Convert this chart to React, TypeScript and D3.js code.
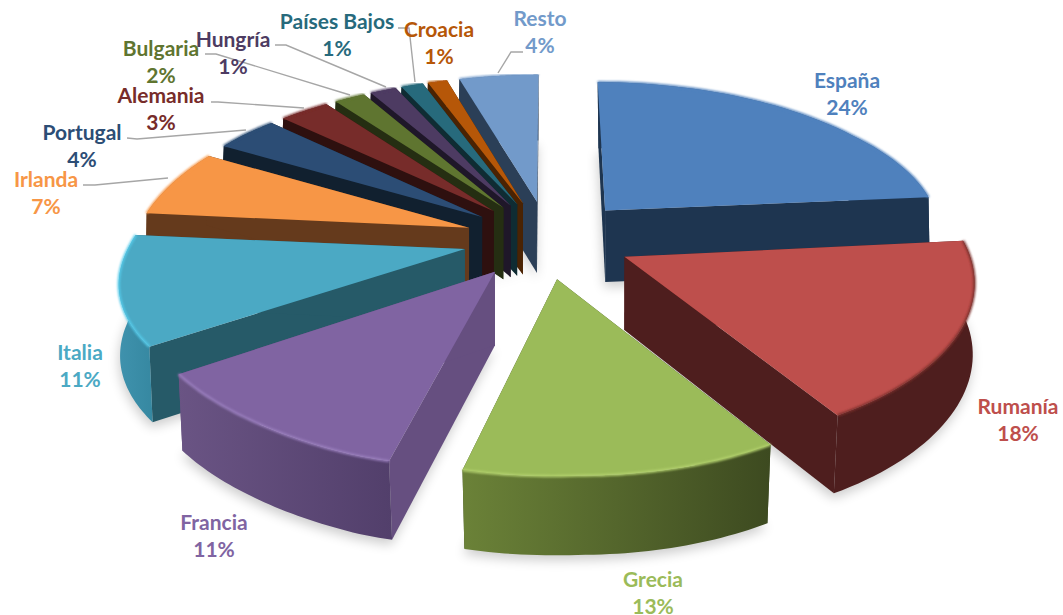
import React, { useEffect, useRef } from 'react';
import * as d3 from 'd3';

const names = ['España', 'Rumanía', 'Grecia', 'Francia', 'Italia', 'Irlanda', 'Portugal', 'Alemania', 'Bulgaria', 'Hungría', 'Países Bajos', 'Croacia', 'Resto'];
const shares = [24, 18, 13, 11, 11, 6.5, 3.55, 2.85, 1.76, 1.49, 1.25, 1.11, 4.49];

const topColors = ['#4F81BD', '#BE4F4C', '#9BBB59', '#8064A2', '#4BA9C4', '#F79646', '#2C4D75', '#772C2A', '#5F7530', '#4D3B62', '#276A7C', '#B65708', '#729ACA'];
const wallColors = ['#1E3550', '#4E1E1E', '#3E4C22', '#664F80', '#265A68', '#653A1C', '#11202F', '#2E100F', '#252E12', '#1F1729', '#0F2C33', '#4A2303', '#2B3F57'];
const rimLeftColors = ['#1E3550', '#4E1E1E', '#6B8238', '#6A5484', '#3F92AD', '#653A1C', '#11202F', '#2E100F', '#252E12', '#1F1729', '#0F2C33', '#4A2303', '#2B3F57'];
const rimRightColors = ['#1E3550', '#4E1E1E', '#3D4A20', '#523F6B', '#3688A1', '#653A1C', '#11202F', '#2E100F', '#252E12', '#1F1729', '#0F2C33', '#4A2303', '#2B3F57'];
const rimEdgeColors = ['#4F81BD', '#7A2E2C', '#B4D26E', '#9A7FBE', '#55CBEA', '#F79646', '#2C4D75', '#772C2A', '#5F7530', '#4D3B62', '#276A7C', '#B65708', '#729ACA'];

// label centre x, baseline of the name line
const labelX = [847, 1018, 653, 214, 80, 46, 82, 161, 161, 233, 337, 439, 540];
const labelY = [88, 414, 587, 530, 360, 187, 140, 103, 56, 47, 29, 37, 26];

const leaders: [number, number][][] = [
  [[83, 185], [95, 185], [168, 178]],
  [[127, 138], [137, 139], [246, 130]],
  [[211, 102], [218, 102], [304, 108]],
  [[205, 54], [216, 54], [350, 95]],
  [[275, 45], [286, 45], [386, 87]],
  [[398, 28], [409, 28], [415, 82]],
  [[498, 73], [511, 52], [523, 52]],
];

const width = 1063;
const height = 615;
const radius = 337;
const explode = 85;

// world: x right, v away from the viewer, in pixels at the pie centre
const project = (x: number, v: number, bottom = false): [number, number] => {
  const w = 1 + 0.00046 * v;
  const wy = 1 + 0.000428 * v;
  const near = v < 0 ? Math.pow(-v / 400, 3) : 0;
  const x0 = 548.5 + 31 * near * (0.85 - x / 650);
  const roll = 0.018 * (v > 0 ? Math.max(0, 1 - v / 250) : 1);
  const sx = x0 + x / w;
  const sy = 239 - (0.46 * v) / wy - roll * x + (x < 0 ? 6 * near * Math.min(1.2, -x / 156) : 0);
  if (!bottom) return [sx, sy];
  return [x0 + (sx - x0) * (1 + v * 0.00004), sy + 72.5 - v * 0.016];
};

const App: React.FC = () => {
  const ref = useRef<SVGSVGElement>(null);

  useEffect(() => {
    if (!ref.current) return;
    const svg = d3.select(ref.current);
    svg.selectAll('*').remove();

    const defs = svg.append('defs');
    defs.append('filter').attr('id', 'soft').attr('x', '-20%').attr('y', '-20%').attr('width', '140%').attr('height', '140%')
      .append('feGaussianBlur').attr('stdDeviation', 6);
    defs.append('filter').attr('id', 'edge').attr('x', '-10%').attr('y', '-10%').attr('width', '120%').attr('height', '120%')
      .append('feGaussianBlur').attr('stdDeviation', 1.1);

    const line = d3.line();
    const arcs = d3.pie<number>().sort(null).value(d => d)(shares);

    const slices = arcs.map((a, i) => {
      const mid = (a.startAngle + a.endAngle) / 2;
      const ax = explode * Math.sin(mid);
      const av = explode * Math.cos(mid);
      const steps = d3.range(0, 41).map(t => a.startAngle + ((a.endAngle - a.startAngle) * t) / 40);
      const rim = steps.map(t => [ax + radius * Math.sin(t), av + radius * Math.cos(t)] as [number, number]);
      return { i, mid, ax, av, rim };
    });

    // soft shadow under everything
    const shadow = svg.append('g').attr('filter', 'url(#soft)').attr('transform', 'translate(-1,5)').attr('opacity', 0.2);
    slices.forEach(s => {
      const pts = [[s.ax, s.av] as [number, number], ...s.rim].map(p => project(p[0], p[1], true));
      shadow.append('path').attr('d', line(pts) + 'Z').attr('fill', '#000');
    });

    // far slices first
    const order = [...slices].sort((a, b) => Math.cos(b.mid) - Math.cos(a.mid));
    order.forEach(s => {
      const g = svg.append('g');
      const apexT = project(s.ax, s.av);
      const apexB = project(s.ax, s.av, true);
      const rimT = s.rim.map(p => project(p[0], p[1]));
      const rimB = s.rim.map(p => project(p[0], p[1], true));
      const n = rimT.length - 1;

      const grad = defs.append('linearGradient').attr('id', `rim${s.i}`);
      grad.append('stop').attr('offset', '0%').attr('stop-color', rimLeftColors[s.i]);
      grad.append('stop').attr('offset', '100%').attr('stop-color', rimRightColors[s.i]);

      g.append('path').attr('d', line([apexT, rimT[0], rimB[0], apexB]) + 'Z').attr('fill', wallColors[s.i]);
      g.append('path').attr('d', line([apexT, rimT[n], rimB[n], apexB]) + 'Z').attr('fill', wallColors[s.i]);
      g.append('path').attr('d', line([...rimT, ...[...rimB].reverse()]) + 'Z').attr('fill', `url(#rim${s.i})`);
      g.append('path').attr('d', line([apexT, ...rimT]) + 'Z').attr('fill', topColors[s.i]);
      g.append('path').attr('d', line(rimT)).attr('fill', 'none')
        .attr('stroke', rimEdgeColors[s.i]).attr('stroke-width', 2.4).attr('filter', 'url(#edge)');
    });

    // leader lines
    svg.append('g').selectAll('path').data(leaders).join('path')
      .attr('d', d => line(d))
      .attr('fill', 'none').attr('stroke', '#A6A6A6').attr('stroke-width', 1.4);

    // labels
    const labels = svg.append('g')
      .attr('font-family', 'Lato, "Open Sans", sans-serif')
      .attr('font-weight', 700)
      .attr('font-size', 21)
      .attr('text-anchor', 'middle');
    names.forEach((name, i) => {
      labels.append('text').attr('x', labelX[i]).attr('y', labelY[i]).attr('fill', topColors[i]).text(name);
      labels.append('text').attr('x', labelX[i]).attr('y', labelY[i] + 27).attr('fill', topColors[i]).text(`${Math.round(shares[i])}%`);
    });
  }, []);

  return (
    <svg ref={ref} width={width} height={height} style={{ position: 'absolute', left: 0, top: 0, background: '#fff' }} />
  );
};

export default App;
